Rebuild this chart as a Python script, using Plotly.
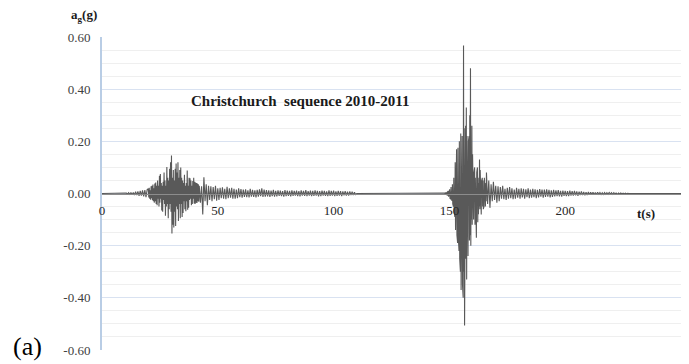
import plotly.graph_objects as go

# ---------------- data ----------------
# Event 1 (2010): three recorded pieces, each with start time (s), sample step (s) and accelerations (g)
e1a_start, e1a_dt = 10.0, 0.5
e1a_acc = [0.000, 0.002, -0.002, 0.003, -0.003, 0.004, -0.005, 0.004, -0.006, 0.007,
           -0.006, 0.008, -0.009, 0.010, -0.008, 0.012, -0.011, 0.013, -0.014, 0.015]

e1b_start, e1b_dt = 20.0, 0.2
e1b_acc = [0.018, -0.015, 0.022, -0.02, 0.012,
           -0.024, 0.028, -0.018, 0.03, -0.026,
           0.034, -0.03, 0.02, -0.035, 0.038,
           -0.03, 0.042, -0.04, 0.03, -0.045,
           0.05, -0.02, 0.03, -0.05, 0.068,
           -0.035, 0.075, -0.02, 0.04, -0.065,
           0.03, -0.07, 0.045, -0.025, 0.08,
           -0.04, 0.05, -0.085, 0.03, -0.05,
           0.102, -0.04, 0.06, -0.095, 0.05,
           -0.06, 0.095, -0.04, 0.12, -0.07,
           0.146, -0.153, 0.06, -0.12, 0.09,
           -0.13, 0.05, -0.07, 0.095, -0.125,
           0.115, -0.05, 0.08, -0.06, 0.12,
           -0.105, 0.06, -0.04, 0.09, -0.095,
           0.1, -0.04, 0.06, -0.09, 0.05,
           -0.075, 0.04, -0.03, 0.072, -0.06,
           0.03, -0.068, 0.04, -0.03, 0.088,
           -0.062, 0.03, -0.055, 0.06, -0.025,
           0.058, -0.02, 0.05, -0.045, 0.03,
           -0.04, 0.048, -0.02, 0.06, -0.038,
           0.045, -0.04, 0.042, -0.035, 0.04,
           -0.036, 0.038, -0.03, 0.035, -0.032]

e1c_start, e1c_dt = 42.0, 0.5
e1c_acc = [0.03, -0.035, 0.028, -0.08, 0.062, -0.03, 0.035, -0.045, 0.03, -0.025,
           0.028, -0.03, 0.025, -0.022, 0.03, -0.028, 0.02, -0.025, 0.022, -0.018,
           0.024, -0.02, 0.018, -0.022, 0.026, -0.018, 0.02, -0.016, 0.022, -0.02,
           0.018, -0.02, 0.015, -0.018, 0.02, -0.014, 0.017, -0.016, 0.015, -0.013,
           0.016, -0.014, 0.012, -0.015, 0.018, -0.012, 0.014, -0.013, 0.012, -0.015,
           0.014, -0.012, 0.016, -0.01, 0.02, -0.013, 0.015, -0.012, 0.013, -0.011,
           0.012, -0.013, 0.011, -0.01, 0.014, -0.012, 0.01, -0.011, 0.012, -0.009,
           0.011, -0.01, 0.009, -0.012, 0.013, -0.01, 0.011, -0.009, 0.01, -0.011,
           0.012, -0.009, 0.01, -0.008, 0.011, -0.01, 0.009, -0.011, 0.012, -0.008,
           0.01, -0.009, 0.013, -0.01, 0.009, -0.008, 0.011, -0.01, 0.01, -0.009,
           0.012, -0.008, 0.01, -0.011, 0.009, -0.01, 0.011, -0.008, 0.01, -0.009,
           0.008, -0.01, 0.012, -0.009, 0.01, -0.008, 0.011, -0.01, 0.008, -0.009,
           0.01, -0.008, 0.009, -0.01, 0.008, -0.007, 0.009, -0.008, 0.007, -0.008,
           0.008, -0.006, 0.007, -0.006, 0.005, -0.004]

# Event 2 (2011)
e2a_start, e2a_dt = 148.0, 0.15
e2a_acc = [0.002, -0.003, 0.004, -0.003, 0.005, -0.006, 0.007, -0.005, 0.008, -0.009,
           0.010, -0.012, 0.014, -0.011, 0.016, -0.018, 0.02, -0.022, 0.025, -0.02,
           0.03, -0.028, 0.035, -0.04, 0.045, -0.05, 0.06, -0.07, 0.08, -0.09,
           0.12, -0.14, 0.15, -0.13, 0.17, -0.16, 0.14, -0.19, 0.175, -0.17,
           0.18, -0.22, 0.2, -0.25, 0.16, -0.3, 0.23, -0.37, 0.21, -0.28,
           0.22, -0.35, 0.3, -0.4, 0.567, -0.3, 0.25, -0.506, 0.2, -0.32,
           0.26, -0.25, 0.33, -0.33, 0.22, -0.2, 0.18, -0.24, 0.2, -0.15,
           0.22, -0.18, 0.3, -0.16, 0.48, -0.2, 0.15, -0.1, 0.26, -0.12,
           0.15, -0.08, 0.12, -0.1, 0.08, -0.06, 0.1, -0.12, 0.06, -0.05,
           0.05, -0.17, 0.08, -0.06, 0.1, -0.11, 0.04, -0.08, 0.06, -0.05,
           0.13, -0.06, 0.09, -0.05, 0.07, -0.08, 0.05, -0.04, 0.06, -0.05,
           0.05, -0.06, 0.04, -0.05, 0.06, -0.04, 0.03, -0.05, 0.04, -0.03]

e2b_start, e2b_dt = 166.0, 0.5
e2b_acc = [0.08, -0.04, 0.05, -0.055, 0.035, -0.03, 0.045, -0.025, 0.03, -0.035,
           0.028, -0.03, 0.025, -0.02, 0.03, -0.022, 0.018, -0.025, 0.022, -0.02,
           0.025, -0.018, 0.02, -0.022, 0.015, -0.02, 0.022, -0.016, 0.018, -0.02,
           0.02, -0.015, 0.018, -0.02, 0.016, -0.014, 0.02, -0.018, 0.015, -0.016,
           0.018, -0.014, 0.016, -0.018, 0.014, -0.015, 0.017, -0.012, 0.015, -0.016,
           0.015, -0.013, 0.016, -0.012, 0.014, -0.015, 0.012, -0.013, 0.014, -0.011,
           0.012, -0.01, 0.013, -0.011, 0.01, -0.012, 0.011, -0.009, 0.01, -0.01,
           0.009, -0.01, 0.011, -0.008, 0.009, -0.008, 0.01, -0.007, 0.008, -0.009,
           0.007, -0.006, 0.008, -0.006, 0.006, -0.007, 0.005, -0.006, 0.006, -0.005,
           0.005, -0.004, 0.005, -0.005, 0.004, -0.004, 0.005, -0.003, 0.004, -0.004,
           0.003, -0.004, 0.004, -0.003, 0.003, -0.003, 0.004, -0.002, 0.003, -0.003,
           0.003, -0.002, 0.002, -0.003, 0.002, -0.002, 0.002, -0.002, 0.001, -0.002,
           0.001, -0.001, 0.001, 0.0]

# quiet (zero) stretches between the records
quiet_t = [0.0, 110.0, 250.0]

x_ticks = [0, 50, 100, 150, 200, 250]
y_ticks = [-0.6, -0.4, -0.2, 0.0, 0.2, 0.4, 0.6]
title_text = "Christchurch\u00a0 sequence 2010-2011"


def seg(start, dt, vals):
    return [start + i * dt for i in range(len(vals))], list(vals)


t, a = [quiet_t[0]], [0.0]
for st, dt, v in [(e1a_start, e1a_dt, e1a_acc), (e1b_start, e1b_dt, e1b_acc),
                  (e1c_start, e1c_dt, e1c_acc)]:
    tt, vv = seg(st, dt, v)
    t += tt
    a += vv
t.append(quiet_t[1]); a.append(0.0)
for st, dt, v in [(e2a_start, e2a_dt, e2a_acc), (e2b_start, e2b_dt, e2b_acc)]:
    tt, vv = seg(st, dt, v)
    t += tt
    a += vv
t.append(quiet_t[2]); a.append(0.0)

fig = go.Figure()
fig.add_trace(go.Scatter(x=t, y=a, mode="lines",
                         line=dict(color="#595959", width=1.1), hoverinfo="skip"))

serif = "Liberation Serif, Times New Roman, serif"

L, R, T, B = 102, 8, 37, 14
PW, PH = 689 - L - R, 364 - T - B


def px(xp):
    return (xp - L) / PW


def py(yp):
    return (364 - B - yp) / PH


fig.update_layout(
    width=689, height=364,
    margin=dict(l=L, r=R, t=T, b=B, autoexpand=False),
    paper_bgcolor="white", plot_bgcolor="white",
    showlegend=False,
    xaxis=dict(range=[0, 250], tickvals=x_ticks, ticktext=[str(v) for v in x_ticks],
               anchor="free", position=0.5, showline=True, linecolor="#8c8c8c",
               linewidth=1, showgrid=False, zeroline=False, ticks="",
               ticklabelstandoff=5, automargin=False,
               tickfont=dict(family=serif, size=13, color="#262626")),
    yaxis=dict(range=[-0.6, 0.6], tickvals=y_ticks,
               ticktext=["%.2f" % v for v in y_ticks],
               showline=True, linecolor="#b9cde5", linewidth=2,
               showgrid=True, gridcolor="#d9e2f1", gridwidth=1,
               zeroline=False, ticks="", ticklabelstandoff=7, automargin=False,
               tickfont=dict(family=serif, size=13, color="#404040"),
               minor=dict(dtick=0.05, tick0=0, showgrid=True,
                          gridcolor="#efefef", gridwidth=1, ticks="")),
    annotations=[
        dict(text="<b>" + title_text + "</b>", xref="paper", yref="paper",
             x=px(300), y=py(101), xanchor="center",
             yanchor="middle", showarrow=False,
             font=dict(family=serif, size=15, color="#1a1a1a")),
        dict(text="<b>a<sub>g</sub>(g)</b>", xref="paper", yref="paper",
             x=px(84), y=py(16), xanchor="center",
             yanchor="middle", showarrow=False,
             font=dict(family=serif, size=13, color="#1a1a1a")),
        dict(text="<b>t(s)</b>", xref="paper", yref="paper",
             x=px(646), y=py(213), xanchor="center",
             yanchor="middle", showarrow=False,
             font=dict(family=serif, size=13, color="#1a1a1a")),
        dict(text="(a)", xref="paper", yref="paper",
             x=px(27), y=py(346), xanchor="center",
             yanchor="middle", showarrow=False,
             font=dict(family=serif, size=26, color="#000000")),
    ],
)

fig.write_html("out.html", config={"displayModeBar": False},
               post_script="document.body.style.margin='0';"
                           "document.body.style.overflow='hidden';")
